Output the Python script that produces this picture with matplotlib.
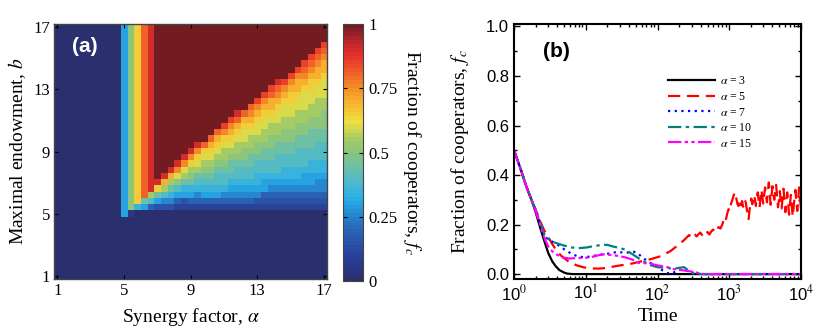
"""
Two-panel figure: (a) cooperation map over synergy factor / maximal endowment,
(b) time evolution of the fraction of cooperators for several alpha values.
"""

import numpy as np
import matplotlib
matplotlib.use("Agg")
import matplotlib.pyplot as plt
from matplotlib import ticker
from matplotlib.colors import LinearSegmentedColormap

plt.rcParams["font.family"] = ["Liberation Serif", "DejaVu Serif"]
plt.rcParams["mathtext.fontset"] = "stix"

# ─────────────────────────────────────────────────────────────
# Panel (a) data — 41 x 41 cells, alpha and b from 1 to 17 (step 0.4)
# one character per cell, value steps of 0.05: '0'=0 ... 'A'=0.5 ... 'K'=1
# ─────────────────────────────────────────────────────────────
STEPS = "0123456789ABCDEFGHIJK"

# vertical band alpha = 5.0 .. 6.6 (column index 10..14)
BAND_COLS = [10, 11, 12, 13, 14]
BAND_LOW = ["", "1", "07", "069", "048B"]    # rows from b=5 upward before plateau
BAND_LEVEL = ["6", "A", "D", "G", "I"]

# triangle region alpha = 7.0 .. 17 (column index 15..40), rows from b=5.4 up,
# everything above the listed cells is full cooperation
TRI_COLS = list(range(15, 41))
TRI_TAIL = [
    "369DI",
    "358BEI",
    "3579BEI",
    "2468ACFI",
    "23679BCFI",
    "24679ABDFI",
    "245789BCDFI",
    "246789ABCDG",
    "246789ABCDEG",
    "2467889ABCDEG",
    "2457889ABBCDFH",
    "24567899ABCDEFH",
    "24567889ABBCDEGI",
    "24567889AABCCDEG",
    "245678899ABBCDEFG",
    "235677889AABCCDEFH",
    "2346678899ABBCCDEFH",
    "2345678899AABBCDEEGH",
    "23456788899ABBCCDEFGI",
    "23456778899AABBCCDEFH",
    "23456778899AABBCCDDEFH",
    "234567788899AABBCCDEEFH",
    "234566788899AABBCCCDEFGH",
    "2345667788999AABBCCDDEFGH",
    "2345567788899AABBBCCDEEFGH",
    "2345567788899AAABBCCCDEEFGH",
]

CB_TICKS = [0, 0.25, 0.5, 0.75, 1]
CB_LABELS = ["0", "0.25", "0.5", "0.75", "1"]
AB_TICKS = [1, 5, 9, 13, 17]

# ─────────────────────────────────────────────────────────────
# Panel (b) data
# ─────────────────────────────────────────────────────────────
T_A3 = [1, 1.25, 1.5, 1.75, 2.0, 2.3, 2.6, 3.0, 3.4, 3.8, 4.3, 5.0, 5.5, 6.5, 8, 1e4]
F_A3 = [0.5, 0.42, 0.35, 0.30, 0.25, 0.19, 0.14, 0.085, 0.052, 0.032, 0.016,
        0.006, 0.002, 0.0, 0.0, 0.0]

T_A5 = [1, 1.25, 1.5, 1.75, 2.0, 2.3, 2.6, 3.0, 3.4, 3.8, 4.5, 5.8, 7.5, 9.4,
        12, 15, 20, 26, 35, 45, 60, 80, 110, 150, 200, 240]
F_A5 = [0.50, 0.42, 0.35, 0.30, 0.26, 0.215, 0.18, 0.15, 0.122, 0.10, 0.075,
        0.05, 0.035, 0.027, 0.023, 0.022, 0.025, 0.032, 0.038, 0.043, 0.052,
        0.06, 0.072, 0.092, 0.12, 0.14]
F_A5_PLATEAU = [0.150, 0.158, 0.148, 0.155, 0.162, 0.152, 0.160, 0.168, 0.158, 0.150,
                0.162, 0.170, 0.160, 0.172, 0.180, 0.168, 0.178, 0.190, 0.184, 0.200]
F_A5_RISE = [0.215, 0.232, 0.222, 0.245, 0.262, 0.255, 0.285, 0.300, 0.318, 0.330]
F_A5_NOISE = [0.315, 0.300, 0.282, 0.275, 0.290, 0.270, 0.285, 0.295, 0.272, 0.280,
              0.300, 0.288, 0.265, 0.240, 0.222, 0.258, 0.290, 0.305, 0.282, 0.296,
              0.318, 0.300, 0.275, 0.310, 0.330, 0.295, 0.270, 0.305, 0.340, 0.310,
              0.285, 0.320, 0.350, 0.318, 0.290, 0.335, 0.370, 0.330, 0.280, 0.315,
              0.355, 0.320, 0.300, 0.340, 0.360, 0.310, 0.270, 0.300, 0.335, 0.290,
              0.265, 0.310, 0.345, 0.300, 0.250, 0.285, 0.330, 0.290, 0.240, 0.280,
              0.320, 0.275, 0.232, 0.270, 0.310, 0.340, 0.290, 0.255, 0.300, 0.350,
              0.300, 0.265]

T_A7 = [1, 1.25, 1.5, 1.75, 2.0, 2.3, 2.7, 3.2, 3.9, 5, 6.5, 8, 10, 13.7, 21, 28,
        36, 45, 52, 60, 70, 89, 110, 137, 160, 190, 230, 280, 400, 1e4]
F_A7 = [0.5, 0.42, 0.35, 0.30, 0.26, 0.21, 0.15, 0.135, 0.122, 0.10, 0.08, 0.07,
        0.068, 0.075, 0.083, 0.09, 0.085, 0.092, 0.086, 0.07, 0.055, 0.036, 0.02,
        0.004, 0.003, 0.015, 0.02, 0.008, 0.0, 0.0]

T_A10 = [1, 1.25, 1.5, 1.75, 2.0, 2.3, 2.7, 3.2, 3.8, 5, 6.5, 8, 10, 13, 17, 20,
         23.5, 30, 36, 45, 55, 65, 80, 100, 130, 170, 234, 270, 320, 400, 1e4]
F_A10 = [0.5, 0.42, 0.35, 0.30, 0.26, 0.21, 0.155, 0.135, 0.126, 0.115, 0.107,
         0.105, 0.107, 0.113, 0.118, 0.118, 0.112, 0.105, 0.098, 0.08, 0.063, 0.05,
         0.036, 0.028, 0.025, 0.022, 0.028, 0.015, 0.002, 0.0, 0.0]

T_A15 = [1, 1.25, 1.5, 1.75, 2.0, 2.3, 2.7, 3.05, 3.6, 4.7, 6, 8, 10, 12.5, 17,
         23.5, 30, 36, 45, 55, 78, 100, 130, 170, 230, 300, 440, 1e4]
F_A15 = [0.5, 0.42, 0.35, 0.30, 0.255, 0.2, 0.14, 0.107, 0.085, 0.067, 0.063,
         0.065, 0.066, 0.07, 0.08, 0.077, 0.072, 0.067, 0.058, 0.045, 0.043, 0.035,
         0.03, 0.02, 0.015, 0.01, 0.0, 0.0]

ALPHA_LABELS = [3, 5, 7, 10, 15]
LINE_COLORS = ["black", "#ff0000", "#0000ff", "#008080", "#ff00ff"]
LINE_STYLES = ["-", (0, (5.5, 3)), (0, (1, 2)), (0, (6, 2, 1.5, 2)),
               (0, (6, 1.5, 1.5, 1.5, 1.5, 1.5))]


# ─────────────────────────────────────────────────────────────
# build heat-map grid
# ─────────────────────────────────────────────────────────────
def _val(c):
    return STEPS.index(c) / 20.0


grid = np.zeros((41, 41))
for j, low, level in zip(BAND_COLS, BAND_LOW, BAND_LEVEL):
    for k, c in enumerate(low):
        grid[10 + k, j] = _val(c)
    grid[10 + len(low):, j] = _val(level)
for j, tail in zip(TRI_COLS, TRI_TAIL):
    vals = [_val(c) for c in tail]
    grid[11:11 + len(vals), j] = vals
    grid[11 + len(vals):, j] = 1.0

cmap = LinearSegmentedColormap.from_list("coop", [
    (0.00, "#2c2f6e"), (0.06, "#283a8e"), (0.12, "#2a4aa2"), (0.20, "#2a66b6"),
    (0.27, "#2590d6"), (0.32, "#28b0e8"), (0.38, "#4cb8d0"), (0.44, "#6cc0a8"),
    (0.50, "#88c480"), (0.56, "#a8cc62"), (0.62, "#f0e040"), (0.70, "#f7b02e"),
    (0.76, "#f38a28"), (0.82, "#f05a28"), (0.88, "#e8302a"), (0.93, "#c0282c"),
    (1.00, "#721c22"),
], N=64)

fig = plt.figure(figsize=(8.18, 3.31), dpi=100)

# ─────────────────────────────────────────────────────────────
# Panel (a)
# ─────────────────────────────────────────────────────────────
ax1 = fig.add_axes([0.066, 0.157, 0.334, 0.7705])
im = ax1.imshow(grid, origin="lower", extent=[0.8, 17.2, 0.8, 17.2],
                aspect="auto", cmap=cmap, vmin=0, vmax=1, interpolation="nearest")
ax1.set_xticks(AB_TICKS)
ax1.set_yticks(AB_TICKS)
ax1.tick_params(direction="in", top=True, right=True, length=3, width=0.8,
                labelsize=12, pad=3)
for sp in ax1.spines.values():
    sp.set_color("#444444")
    sp.set_linewidth(1.0)
ax1.set_xlabel(r"Synergy factor, $\alpha$", fontsize=14, labelpad=5)
ax1.set_ylabel(r"Maximal endowment, $b$", fontsize=14, labelpad=4)
ax1.text(0.065, 0.95, "(a)", transform=ax1.transAxes, va="top", ha="left",
         color="white", fontsize=15, fontweight="bold", family="Liberation Sans")

cax = fig.add_axes([0.4193, 0.151, 0.0245, 0.776])
cb = fig.colorbar(im, cax=cax, ticks=CB_TICKS)
cb.ax.set_yticklabels(CB_LABELS)
cb.ax.tick_params(direction="in", left=True, right=True, length=3, width=0.8,
                  labelsize=12, pad=4)
cb.outline.set_edgecolor("#444444")
cb.set_label(r"Fraction of cooperators, $f_c$", rotation=270, fontsize=14,
             labelpad=18)

# ─────────────────────────────────────────────────────────────
# Panel (b)
# ─────────────────────────────────────────────────────────────
ax2 = fig.add_axes([0.6284, 0.157, 0.3508, 0.7705])

t_a5 = (T_A5 + list(np.geomspace(260, 800, len(F_A5_PLATEAU)))
        + list(np.geomspace(830, 1200, len(F_A5_RISE)))
        + list(np.geomspace(1230, 1e4, len(F_A5_NOISE))))
f_a5 = F_A5 + F_A5_PLATEAU + F_A5_RISE + F_A5_NOISE

series = [(T_A3, F_A3), (t_a5, f_a5), (T_A7, F_A7), (T_A10, F_A10), (T_A15, F_A15)]
for (t, f), a, c, ls in zip(series, ALPHA_LABELS, LINE_COLORS, LINE_STYLES):
    ax2.plot(t, f, color=c, linestyle=ls, linewidth=1.6,
             label=r"$\alpha$ = %d" % a)

ax2.set_xscale("log")
ax2.set_xlim(1, 1e4)
ax2.set_ylim(-0.02, 1.01)
ax2.set_yticks([0.0, 0.2, 0.4, 0.6, 0.8, 1.0])
ax2.yaxis.set_minor_locator(ticker.MultipleLocator(0.1))
ax2.yaxis.set_major_formatter(ticker.FormatStrFormatter("%.1f"))
ax2.xaxis.set_major_locator(ticker.LogLocator(base=10, numticks=10))
ax2.xaxis.set_major_formatter(ticker.FuncFormatter(
    lambda x, p: r"10$^{%d}$" % int(round(np.log10(x)))))
ax2.tick_params(which="both", direction="in", top=True, right=True, width=1.0)
ax2.tick_params(which="major", length=4, labelsize=12, labelfontfamily="Liberation Sans")
ax2.tick_params(which="minor", length=2.5)
for sp in ax2.spines.values():
    sp.set_linewidth(1.5)
ax2.set_xlabel("Time", fontsize=14, labelpad=3)
ax2.set_ylabel(r"Fraction of cooperators, $f_c$", fontsize=14, labelpad=11)
ax2.text(0.1, 0.93, "(b)", transform=ax2.transAxes, va="top", ha="left",
         fontsize=15, fontweight="bold", family="Liberation Sans")
ax2.legend(loc="upper left", bbox_to_anchor=(0.5, 0.84), frameon=False,
           fontsize=8.5, handlelength=4.0, labelspacing=0.3, handletextpad=0.4)

fig.savefig("out.png", dpi=100)
